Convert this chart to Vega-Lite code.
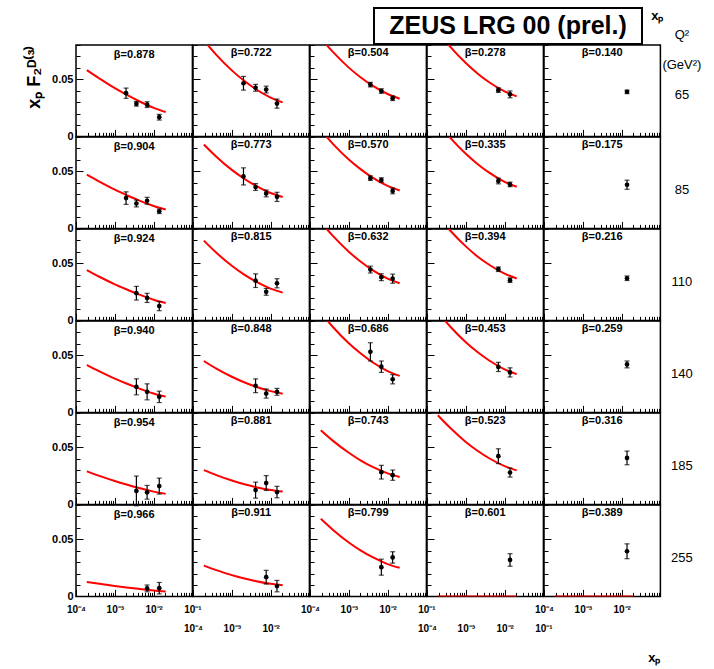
{
"$schema":"https://vega.github.io/schema/vega-lite/v6.json",
"padding":{"left":24,"top":7,"right":5,"bottom":2},
"background":"white",
"datasets":{"d":[
{"p":"11","k":"c","x":0.00019,"y":0.058},{"p":"11","k":"c","x":0.0004,"y":0.0507},{"p":"11","k":"c","x":0.001,"y":0.0422},{"p":"11","k":"c","x":0.002,"y":0.0365},{"p":"11","k":"c","x":0.004,"y":0.0312},{"p":"11","k":"c","x":0.01,"y":0.025},{"p":"11","k":"c","x":0.0205,"y":0.0213},
{"p":"21","k":"c","x":0.00019,"y":0.047},{"p":"21","k":"c","x":0.0004,"y":0.0409},{"p":"21","k":"c","x":0.001,"y":0.0339},{"p":"21","k":"c","x":0.002,"y":0.0292},{"p":"21","k":"c","x":0.004,"y":0.0247},{"p":"21","k":"c","x":0.01,"y":0.0196},{"p":"21","k":"c","x":0.0205,"y":0.0165},
{"p":"31","k":"c","x":0.00019,"y":0.044},{"p":"31","k":"c","x":0.0004,"y":0.0382},{"p":"31","k":"c","x":0.001,"y":0.0316},{"p":"31","k":"c","x":0.002,"y":0.0272},{"p":"31","k":"c","x":0.004,"y":0.023},{"p":"31","k":"c","x":0.01,"y":0.0181},{"p":"31","k":"c","x":0.0205,"y":0.0152},
{"p":"41","k":"c","x":0.00019,"y":0.0415},{"p":"41","k":"c","x":0.0004,"y":0.036},{"p":"41","k":"c","x":0.001,"y":0.0296},{"p":"41","k":"c","x":0.002,"y":0.0253},{"p":"41","k":"c","x":0.004,"y":0.0213},{"p":"41","k":"c","x":0.01,"y":0.0166},{"p":"41","k":"c","x":0.0205,"y":0.0138},
{"p":"51","k":"c","x":0.00019,"y":0.029},{"p":"51","k":"c","x":0.0004,"y":0.025},{"p":"51","k":"c","x":0.001,"y":0.0205},{"p":"51","k":"c","x":0.002,"y":0.0174},{"p":"51","k":"c","x":0.004,"y":0.0145},{"p":"51","k":"c","x":0.01,"y":0.0112},{"p":"51","k":"c","x":0.0205,"y":0.0092},
{"p":"61","k":"c","x":0.00019,"y":0.0127},{"p":"61","k":"c","x":0.0004,"y":0.011},{"p":"61","k":"c","x":0.001,"y":0.0091},{"p":"61","k":"c","x":0.002,"y":0.0078},{"p":"61","k":"c","x":0.004,"y":0.0066},{"p":"61","k":"c","x":0.01,"y":0.0051},{"p":"61","k":"c","x":0.0205,"y":0.0043},
{"p":"12","k":"c","x":0.00019,"y":0.084},{"p":"12","k":"c","x":0.0004,"y":0.0714},{"p":"12","k":"c","x":0.001,"y":0.0578},{"p":"12","k":"c","x":0.002,"y":0.0491},{"p":"12","k":"c","x":0.004,"y":0.0417},{"p":"12","k":"c","x":0.01,"y":0.034},{"p":"12","k":"c","x":0.0205,"y":0.0298},
{"p":"22","k":"c","x":0.00019,"y":0.0735},{"p":"22","k":"c","x":0.0004,"y":0.0628},{"p":"22","k":"c","x":0.001,"y":0.0512},{"p":"22","k":"c","x":0.002,"y":0.0439},{"p":"22","k":"c","x":0.004,"y":0.0376},{"p":"22","k":"c","x":0.01,"y":0.031},{"p":"22","k":"c","x":0.0205,"y":0.0275},
{"p":"32","k":"c","x":0.00019,"y":0.0698},{"p":"32","k":"c","x":0.0004,"y":0.0592},{"p":"32","k":"c","x":0.001,"y":0.0478},{"p":"32","k":"c","x":0.002,"y":0.0405},{"p":"32","k":"c","x":0.004,"y":0.0343},{"p":"32","k":"c","x":0.01,"y":0.0278},{"p":"32","k":"c","x":0.0205,"y":0.0243},
{"p":"42","k":"c","x":0.00019,"y":0.045},{"p":"42","k":"c","x":0.0004,"y":0.0383},{"p":"42","k":"c","x":0.001,"y":0.0312},{"p":"42","k":"c","x":0.002,"y":0.0266},{"p":"42","k":"c","x":0.004,"y":0.0227},{"p":"42","k":"c","x":0.01,"y":0.0186},{"p":"42","k":"c","x":0.0205,"y":0.0164},
{"p":"52","k":"c","x":0.00019,"y":0.03},{"p":"52","k":"c","x":0.0004,"y":0.0256},{"p":"52","k":"c","x":0.001,"y":0.0209},{"p":"52","k":"c","x":0.002,"y":0.0179},{"p":"52","k":"c","x":0.004,"y":0.0153},{"p":"52","k":"c","x":0.01,"y":0.0126},{"p":"52","k":"c","x":0.0205,"y":0.0112},
{"p":"62","k":"c","x":0.00019,"y":0.027},{"p":"62","k":"c","x":0.0004,"y":0.023},{"p":"62","k":"c","x":0.001,"y":0.0186},{"p":"62","k":"c","x":0.002,"y":0.0159},{"p":"62","k":"c","x":0.004,"y":0.0135},{"p":"62","k":"c","x":0.01,"y":0.011},{"p":"62","k":"c","x":0.0205,"y":0.0097},
{"p":"13","k":"c","x":0.00019,"y":0.0858},{"p":"13","k":"c","x":0.0004,"y":0.0735},{"p":"13","k":"c","x":0.001,"y":0.0602},{"p":"13","k":"c","x":0.002,"y":0.0518},{"p":"13","k":"c","x":0.004,"y":0.0446},{"p":"13","k":"c","x":0.01,"y":0.0371},{"p":"13","k":"c","x":0.0205,"y":0.033},
{"p":"23","k":"c","x":0.00019,"y":0.086},{"p":"23","k":"c","x":0.0004,"y":0.0736},{"p":"23","k":"c","x":0.001,"y":0.0603},{"p":"23","k":"c","x":0.002,"y":0.0519},{"p":"23","k":"c","x":0.004,"y":0.0447},{"p":"23","k":"c","x":0.01,"y":0.0372},{"p":"23","k":"c","x":0.0205,"y":0.0332},
{"p":"33","k":"c","x":0.00019,"y":0.0859},{"p":"33","k":"c","x":0.0004,"y":0.0735},{"p":"33","k":"c","x":0.001,"y":0.0601},{"p":"33","k":"c","x":0.002,"y":0.0515},{"p":"33","k":"c","x":0.004,"y":0.0442},{"p":"33","k":"c","x":0.01,"y":0.0366},{"p":"33","k":"c","x":0.0205,"y":0.0325},
{"p":"43","k":"c","x":0.00019,"y":0.0872},{"p":"43","k":"c","x":0.0004,"y":0.0743},{"p":"43","k":"c","x":0.001,"y":0.0605},{"p":"43","k":"c","x":0.002,"y":0.0517},{"p":"43","k":"c","x":0.004,"y":0.0441},{"p":"43","k":"c","x":0.01,"y":0.0362},{"p":"43","k":"c","x":0.0205,"y":0.032},
{"p":"53","k":"c","x":0.00019,"y":0.065},{"p":"53","k":"c","x":0.0004,"y":0.0554},{"p":"53","k":"c","x":0.001,"y":0.0452},{"p":"53","k":"c","x":0.002,"y":0.0386},{"p":"53","k":"c","x":0.004,"y":0.033},{"p":"53","k":"c","x":0.01,"y":0.0272},{"p":"53","k":"c","x":0.0205,"y":0.024},
{"p":"63","k":"c","x":0.00019,"y":0.068},{"p":"63","k":"c","x":0.0004,"y":0.058},{"p":"63","k":"c","x":0.001,"y":0.0472},{"p":"63","k":"c","x":0.002,"y":0.0403},{"p":"63","k":"c","x":0.004,"y":0.0345},{"p":"63","k":"c","x":0.01,"y":0.0283},{"p":"63","k":"c","x":0.0205,"y":0.025},
{"p":"14","k":"c","x":0.00019,"y":0.0916},{"p":"14","k":"c","x":0.0004,"y":0.0784},{"p":"14","k":"c","x":0.001,"y":0.0642},{"p":"14","k":"c","x":0.002,"y":0.0551},{"p":"14","k":"c","x":0.004,"y":0.0474},{"p":"14","k":"c","x":0.01,"y":0.0394},{"p":"14","k":"c","x":0.0205,"y":0.035},
{"p":"24","k":"c","x":0.00019,"y":0.0923},{"p":"24","k":"c","x":0.0004,"y":0.0793},{"p":"24","k":"c","x":0.001,"y":0.0653},{"p":"24","k":"c","x":0.002,"y":0.0564},{"p":"24","k":"c","x":0.004,"y":0.0488},{"p":"24","k":"c","x":0.01,"y":0.0408},{"p":"24","k":"c","x":0.0205,"y":0.0365},
{"p":"34","k":"c","x":0.00019,"y":0.0912},{"p":"34","k":"c","x":0.0004,"y":0.0785},{"p":"34","k":"c","x":0.001,"y":0.0648},{"p":"34","k":"c","x":0.002,"y":0.056},{"p":"34","k":"c","x":0.004,"y":0.0487},{"p":"34","k":"c","x":0.01,"y":0.0409},{"p":"34","k":"c","x":0.0205,"y":0.0367},
{"p":"44","k":"c","x":0.00019,"y":0.0876},{"p":"44","k":"c","x":0.0004,"y":0.075},{"p":"44","k":"c","x":0.001,"y":0.0614},{"p":"44","k":"c","x":0.002,"y":0.0528},{"p":"44","k":"c","x":0.004,"y":0.0454},{"p":"44","k":"c","x":0.01,"y":0.0377},{"p":"44","k":"c","x":0.0205,"y":0.0335},
{"p":"54","k":"c","x":0.00019,"y":0.078},{"p":"54","k":"c","x":0.0004,"y":0.0668},{"p":"54","k":"c","x":0.001,"y":0.0547},{"p":"54","k":"c","x":0.002,"y":0.047},{"p":"54","k":"c","x":0.004,"y":0.0404},{"p":"54","k":"c","x":0.01,"y":0.0335},{"p":"54","k":"c","x":0.0205,"y":0.0298},
{"p":"64","k":"c","x":0.00019,"y":0},{"p":"64","k":"c","x":0.0205,"y":0},
{"p":"65","k":"c","x":0.00019,"y":0},{"p":"65","k":"c","x":0.0205,"y":0},
{"p":"11","k":"d","x":0.00195,"y":0.0378,"e":0.0045},{"p":"11","k":"d","x":0.0036,"y":0.0285,"e":0.002},{"p":"11","k":"d","x":0.0068,"y":0.0278,"e":0.0025},{"p":"11","k":"d","x":0.014,"y":0.0168,"e":0.0025},
{"p":"12","k":"d","x":0.002,"y":0.0465,"e":0.006},{"p":"12","k":"d","x":0.0041,"y":0.0425,"e":0.003},{"p":"12","k":"d","x":0.0077,"y":0.041,"e":0.003},{"p":"12","k":"d","x":0.0146,"y":0.0287,"e":0.004},
{"p":"13","k":"d","x":0.0036,"y":0.0453,"e":0.002},{"p":"13","k":"d","x":0.0069,"y":0.0397,"e":0.002},{"p":"13","k":"d","x":0.0135,"y":0.0334,"e":0.002},
{"p":"14","k":"d","x":0.0069,"y":0.0405,"e":0.002},{"p":"14","k":"d","x":0.0138,"y":0.0368,"e":0.003},
{"p":"15","k":"d","x":0.0138,"y":0.039,"e":0.0015},
{"p":"21","k":"d","x":0.00195,"y":0.0265,"e":0.0055},{"p":"21","k":"d","x":0.0036,"y":0.0218,"e":0.003},{"p":"21","k":"d","x":0.0068,"y":0.0242,"e":0.003},{"p":"21","k":"d","x":0.014,"y":0.015,"e":0.002},
{"p":"22","k":"d","x":0.002,"y":0.0455,"e":0.0075},{"p":"22","k":"d","x":0.0041,"y":0.0362,"e":0.003},{"p":"22","k":"d","x":0.0077,"y":0.0306,"e":0.003},{"p":"22","k":"d","x":0.0146,"y":0.0276,"e":0.004},
{"p":"23","k":"d","x":0.0036,"y":0.044,"e":0.002},{"p":"23","k":"d","x":0.0069,"y":0.0423,"e":0.002},{"p":"23","k":"d","x":0.0135,"y":0.0328,"e":0.0025},
{"p":"24","k":"d","x":0.0069,"y":0.0415,"e":0.0025},{"p":"24","k":"d","x":0.0138,"y":0.0385,"e":0.002},
{"p":"25","k":"d","x":0.0138,"y":0.0382,"e":0.004},
{"p":"31","k":"d","x":0.0036,"y":0.0238,"e":0.006},{"p":"31","k":"d","x":0.0068,"y":0.0197,"e":0.004},{"p":"31","k":"d","x":0.014,"y":0.0125,"e":0.004},
{"p":"32","k":"d","x":0.0041,"y":0.0348,"e":0.006},{"p":"32","k":"d","x":0.0077,"y":0.025,"e":0.003},{"p":"32","k":"d","x":0.0146,"y":0.0325,"e":0.004},
{"p":"33","k":"d","x":0.0036,"y":0.0445,"e":0.003},{"p":"33","k":"d","x":0.0069,"y":0.0378,"e":0.003},{"p":"33","k":"d","x":0.0135,"y":0.0365,"e":0.004},
{"p":"34","k":"d","x":0.0069,"y":0.0448,"e":0.002},{"p":"34","k":"d","x":0.0138,"y":0.0352,"e":0.002},
{"p":"35","k":"d","x":0.0138,"y":0.0369,"e":0.002},
{"p":"41","k":"d","x":0.0036,"y":0.0224,"e":0.007},{"p":"41","k":"d","x":0.0068,"y":0.018,"e":0.007},{"p":"41","k":"d","x":0.014,"y":0.0136,"e":0.005},
{"p":"42","k":"d","x":0.0041,"y":0.0233,"e":0.006},{"p":"42","k":"d","x":0.0077,"y":0.0165,"e":0.004},{"p":"42","k":"d","x":0.0146,"y":0.018,"e":0.003},
{"p":"43","k":"d","x":0.0036,"y":0.053,"e":0.008},{"p":"43","k":"d","x":0.0069,"y":0.04,"e":0.005},{"p":"43","k":"d","x":0.0135,"y":0.029,"e":0.004},
{"p":"44","k":"d","x":0.0069,"y":0.0398,"e":0.004},{"p":"44","k":"d","x":0.0138,"y":0.035,"e":0.004},
{"p":"45","k":"d","x":0.0138,"y":0.042,"e":0.003},
{"p":"51","k":"d","x":0.0036,"y":0.0118,"e":0.013},{"p":"51","k":"d","x":0.0068,"y":0.0106,"e":0.006},{"p":"51","k":"d","x":0.014,"y":0.016,"e":0.007},
{"p":"52","k":"d","x":0.0041,"y":0.0125,"e":0.007},{"p":"52","k":"d","x":0.0077,"y":0.0187,"e":0.0065},{"p":"52","k":"d","x":0.0146,"y":0.0108,"e":0.005},
{"p":"53","k":"d","x":0.0069,"y":0.0282,"e":0.006},{"p":"53","k":"d","x":0.0135,"y":0.0256,"e":0.0045},
{"p":"54","k":"d","x":0.0069,"y":0.0422,"e":0.0065},{"p":"54","k":"d","x":0.0138,"y":0.0279,"e":0.004},
{"p":"55","k":"d","x":0.0138,"y":0.0407,"e":0.006},
{"p":"61","k":"d","x":0.0068,"y":0.007,"e":0.003},{"p":"61","k":"d","x":0.014,"y":0.0072,"e":0.005},
{"p":"62","k":"d","x":0.0077,"y":0.0168,"e":0.006},{"p":"62","k":"d","x":0.0146,"y":0.009,"e":0.005},
{"p":"63","k":"d","x":0.0069,"y":0.0256,"e":0.007},{"p":"63","k":"d","x":0.0135,"y":0.0341,"e":0.005},
{"p":"64","k":"d","x":0.0138,"y":0.0319,"e":0.0055},
{"p":"65","k":"d","x":0.0138,"y":0.0395,"e":0.0065}
]},
"data":{"name":"d"},
"spacing":-18,
"vconcat":[
{"hconcat":[
 {"width":298,"height":36,"data":{"values":[{}]},"mark":"text","encoding":{"text":{"value":""}},"view":{"stroke":null}},
 {"width":268,"height":36,"data":{"values":[{"t":"ZEUS LRG 00 (prel.)"}]},"mark":{"type":"text","fontSize":25,"fontWeight":"bold","color":"black"},"encoding":{"text":{"field":"t"}},"view":{"stroke":"black","strokeWidth":2},
  "title":{"text":"xₚ","orient":"right","angle":0,"anchor":"start","baseline":"top","align":"left","offset":-3,"dy":2,"fontSize":13,"frame":"group"}}
],"spacing":0,"bounds":"flush"},
{"columns":5,"spacing":0,"bounds":"flush","concat":[
 {"width":116.4,"height":91.4,"title":{"text":"β=0.878","dy":25},"transform":[{"filter":"datum.p=='11'"}],"encoding":{"x":{"field":"x","type":"quantitative","title":null,"scale":{"type":"log","domain":[0.0001,0.1],"nice":false},"axis":{"labels":false}},"y":{"field":"y","type":"quantitative","title":"xₚ F₂ᴰ⁽³⁾","scale":{"domain":[0,0.08],"nice":false},"axis":{"labelExpr":"datum.value==0?'0':abs(datum.value-0.05)<0.001?'0.05':''","titleAnchor":"end","titleFontSize":18,"titlePadding":8,"titleFontWeight":"bold"}}},
  "layer":[{"transform":[{"filter":"datum.k=='c'"}],"mark":{"type":"line","clip":true}},{"transform":[{"filter":"datum.k=='d'"}],"mark":{"type":"errorbar","color":"black","ticks":{"size":5},"thickness":1.2},"encoding":{"yError":{"field":"e"}}},{"transform":[{"filter":"datum.k=='d'"}],"mark":{"type":"point"}}]},
 {"width":116.4,"height":91.4,"title":{"text":"β=0.722"},"transform":[{"filter":"datum.p=='12'"}],"encoding":{"x":{"field":"x","type":"quantitative","title":null,"scale":{"type":"log","domain":[0.0001,0.1],"nice":false},"axis":{"labels":false}},"y":{"field":"y","type":"quantitative","title":null,"scale":{"domain":[0,0.08],"nice":false},"axis":{"labels":false}}},
  "layer":[{"transform":[{"filter":"datum.k=='c'"}],"mark":{"type":"line","clip":true}},{"transform":[{"filter":"datum.k=='d'"}],"mark":{"type":"errorbar","color":"black","ticks":{"size":5},"thickness":1.2},"encoding":{"yError":{"field":"e"}}},{"transform":[{"filter":"datum.k=='d'"}],"mark":{"type":"point"}}]},
 {"width":116.4,"height":91.4,"title":{"text":"β=0.504"},"transform":[{"filter":"datum.p=='13'"}],"encoding":{"x":{"field":"x","type":"quantitative","title":null,"scale":{"type":"log","domain":[0.0001,0.1],"nice":false},"axis":{"labels":false}},"y":{"field":"y","type":"quantitative","title":null,"scale":{"domain":[0,0.08],"nice":false},"axis":{"labels":false}}},
  "layer":[{"transform":[{"filter":"datum.k=='c'"}],"mark":{"type":"line","clip":true}},{"transform":[{"filter":"datum.k=='d'"}],"mark":{"type":"errorbar","color":"black","ticks":{"size":5},"thickness":1.2},"encoding":{"yError":{"field":"e"}}},{"transform":[{"filter":"datum.k=='d'"}],"mark":{"type":"point"}}]},
 {"width":116.4,"height":91.4,"title":{"text":"β=0.278"},"transform":[{"filter":"datum.p=='14'"}],"encoding":{"x":{"field":"x","type":"quantitative","title":null,"scale":{"type":"log","domain":[0.0001,0.1],"nice":false},"axis":{"labels":false}},"y":{"field":"y","type":"quantitative","title":null,"scale":{"domain":[0,0.08],"nice":false},"axis":{"labels":false}}},
  "layer":[{"transform":[{"filter":"datum.k=='c'"}],"mark":{"type":"line","clip":true}},{"transform":[{"filter":"datum.k=='d'"}],"mark":{"type":"errorbar","color":"black","ticks":{"size":5},"thickness":1.2},"encoding":{"yError":{"field":"e"}}},{"transform":[{"filter":"datum.k=='d'"}],"mark":{"type":"point"}}]},
 {"width":116.4,"height":91.4,"title":{"text":"β=0.140","dy":33},"transform":[{"filter":"datum.p=='15'"}],"encoding":{"x":{"field":"x","type":"quantitative","title":null,"scale":{"type":"log","domain":[0.0001,0.1],"nice":false},"axis":{"labels":false}}},"resolve":{"axis":{"y":"independent"}},
  "layer":[{"transform":[{"filter":"datum.k=='c'"}],"mark":{"type":"line","clip":true},"encoding":{"y":{"field":"y","type":"quantitative","title":["Q²","(GeV²)","65"],"scale":{"domain":[0,0.08],"nice":false},"axis":{"orient":"right","labels":false,"ticks":false,"titleAngle":0,"titleX":21,"titleY":-3.5,"titleAlign":"center","titleBaseline":"bottom","titleFontWeight":"normal","titleFontSize":13,"titleLineHeight":30}}}},
   {"transform":[{"filter":"datum.k=='d'"}],"mark":{"type":"errorbar","color":"black","ticks":{"size":5},"thickness":1.2},"encoding":{"y":{"field":"y","type":"quantitative","scale":{"domain":[0,0.08],"nice":false},"axis":null},"yError":{"field":"e"}}},
   {"transform":[{"filter":"datum.k=='d'"}],"mark":{"type":"point"},"encoding":{"y":{"field":"y","type":"quantitative","title":null,"scale":{"domain":[0,0.08],"nice":false},"axis":{"labels":false}}}}]},
 {"width":116.4,"height":91.4,"title":{"text":"β=0.904","dy":25},"transform":[{"filter":"datum.p=='21'"}],"encoding":{"x":{"field":"x","type":"quantitative","title":null,"scale":{"type":"log","domain":[0.0001,0.1],"nice":false},"axis":{"labels":false}},"y":{"field":"y","type":"quantitative","title":null,"scale":{"domain":[0,0.08],"nice":false},"axis":{"labelExpr":"datum.value==0?'0':abs(datum.value-0.05)<0.001?'0.05':''"}}},
  "layer":[{"transform":[{"filter":"datum.k=='c'"}],"mark":{"type":"line","clip":true}},{"transform":[{"filter":"datum.k=='d'"}],"mark":{"type":"errorbar","color":"black","ticks":{"size":5},"thickness":1.2},"encoding":{"yError":{"field":"e"}}},{"transform":[{"filter":"datum.k=='d'"}],"mark":{"type":"point"}}]},
 {"width":116.4,"height":91.4,"title":{"text":"β=0.773"},"transform":[{"filter":"datum.p=='22'"}],"encoding":{"x":{"field":"x","type":"quantitative","title":null,"scale":{"type":"log","domain":[0.0001,0.1],"nice":false},"axis":{"labels":false}},"y":{"field":"y","type":"quantitative","title":null,"scale":{"domain":[0,0.08],"nice":false},"axis":{"labels":false}}},
  "layer":[{"transform":[{"filter":"datum.k=='c'"}],"mark":{"type":"line","clip":true}},{"transform":[{"filter":"datum.k=='d'"}],"mark":{"type":"errorbar","color":"black","ticks":{"size":5},"thickness":1.2},"encoding":{"yError":{"field":"e"}}},{"transform":[{"filter":"datum.k=='d'"}],"mark":{"type":"point"}}]},
 {"width":116.4,"height":91.4,"title":{"text":"β=0.570"},"transform":[{"filter":"datum.p=='23'"}],"encoding":{"x":{"field":"x","type":"quantitative","title":null,"scale":{"type":"log","domain":[0.0001,0.1],"nice":false},"axis":{"labels":false}},"y":{"field":"y","type":"quantitative","title":null,"scale":{"domain":[0,0.08],"nice":false},"axis":{"labels":false}}},
  "layer":[{"transform":[{"filter":"datum.k=='c'"}],"mark":{"type":"line","clip":true}},{"transform":[{"filter":"datum.k=='d'"}],"mark":{"type":"errorbar","color":"black","ticks":{"size":5},"thickness":1.2},"encoding":{"yError":{"field":"e"}}},{"transform":[{"filter":"datum.k=='d'"}],"mark":{"type":"point"}}]},
 {"width":116.4,"height":91.4,"title":{"text":"β=0.335"},"transform":[{"filter":"datum.p=='24'"}],"encoding":{"x":{"field":"x","type":"quantitative","title":null,"scale":{"type":"log","domain":[0.0001,0.1],"nice":false},"axis":{"labels":false}},"y":{"field":"y","type":"quantitative","title":null,"scale":{"domain":[0,0.08],"nice":false},"axis":{"labels":false}}},
  "layer":[{"transform":[{"filter":"datum.k=='c'"}],"mark":{"type":"line","clip":true}},{"transform":[{"filter":"datum.k=='d'"}],"mark":{"type":"errorbar","color":"black","ticks":{"size":5},"thickness":1.2},"encoding":{"yError":{"field":"e"}}},{"transform":[{"filter":"datum.k=='d'"}],"mark":{"type":"point"}}]},
 {"width":116.4,"height":91.4,"title":{"text":"β=0.175"},"transform":[{"filter":"datum.p=='25'"}],"encoding":{"x":{"field":"x","type":"quantitative","title":null,"scale":{"type":"log","domain":[0.0001,0.1],"nice":false},"axis":{"labels":false}}},"resolve":{"axis":{"y":"independent"}},
  "layer":[{"transform":[{"filter":"datum.k=='c'"}],"mark":{"type":"line","clip":true},"encoding":{"y":{"field":"y","type":"quantitative","title":"85","scale":{"domain":[0,0.08],"nice":false},"axis":{"orient":"right","labels":false,"ticks":false,"titleAngle":0,"titleX":21,"titleY":52.7,"titleAlign":"center","titleBaseline":"middle","titleFontWeight":"normal","titleFontSize":13}}}},
   {"transform":[{"filter":"datum.k=='d'"}],"mark":{"type":"errorbar","color":"black","ticks":{"size":5},"thickness":1.2},"encoding":{"y":{"field":"y","type":"quantitative","scale":{"domain":[0,0.08],"nice":false},"axis":null},"yError":{"field":"e"}}},
   {"transform":[{"filter":"datum.k=='d'"}],"mark":{"type":"point"},"encoding":{"y":{"field":"y","type":"quantitative","title":null,"scale":{"domain":[0,0.08],"nice":false},"axis":{"labels":false}}}}]},
 {"width":116.4,"height":91.4,"title":{"text":"β=0.924","dy":25},"transform":[{"filter":"datum.p=='31'"}],"encoding":{"x":{"field":"x","type":"quantitative","title":null,"scale":{"type":"log","domain":[0.0001,0.1],"nice":false},"axis":{"labels":false}},"y":{"field":"y","type":"quantitative","title":null,"scale":{"domain":[0,0.08],"nice":false},"axis":{"labelExpr":"datum.value==0?'0':abs(datum.value-0.05)<0.001?'0.05':''"}}},
  "layer":[{"transform":[{"filter":"datum.k=='c'"}],"mark":{"type":"line","clip":true}},{"transform":[{"filter":"datum.k=='d'"}],"mark":{"type":"errorbar","color":"black","ticks":{"size":5},"thickness":1.2},"encoding":{"yError":{"field":"e"}}},{"transform":[{"filter":"datum.k=='d'"}],"mark":{"type":"point"}}]},
 {"width":116.4,"height":91.4,"title":{"text":"β=0.815"},"transform":[{"filter":"datum.p=='32'"}],"encoding":{"x":{"field":"x","type":"quantitative","title":null,"scale":{"type":"log","domain":[0.0001,0.1],"nice":false},"axis":{"labels":false}},"y":{"field":"y","type":"quantitative","title":null,"scale":{"domain":[0,0.08],"nice":false},"axis":{"labels":false}}},
  "layer":[{"transform":[{"filter":"datum.k=='c'"}],"mark":{"type":"line","clip":true}},{"transform":[{"filter":"datum.k=='d'"}],"mark":{"type":"errorbar","color":"black","ticks":{"size":5},"thickness":1.2},"encoding":{"yError":{"field":"e"}}},{"transform":[{"filter":"datum.k=='d'"}],"mark":{"type":"point"}}]},
 {"width":116.4,"height":91.4,"title":{"text":"β=0.632"},"transform":[{"filter":"datum.p=='33'"}],"encoding":{"x":{"field":"x","type":"quantitative","title":null,"scale":{"type":"log","domain":[0.0001,0.1],"nice":false},"axis":{"labels":false}},"y":{"field":"y","type":"quantitative","title":null,"scale":{"domain":[0,0.08],"nice":false},"axis":{"labels":false}}},
  "layer":[{"transform":[{"filter":"datum.k=='c'"}],"mark":{"type":"line","clip":true}},{"transform":[{"filter":"datum.k=='d'"}],"mark":{"type":"errorbar","color":"black","ticks":{"size":5},"thickness":1.2},"encoding":{"yError":{"field":"e"}}},{"transform":[{"filter":"datum.k=='d'"}],"mark":{"type":"point"}}]},
 {"width":116.4,"height":91.4,"title":{"text":"β=0.394"},"transform":[{"filter":"datum.p=='34'"}],"encoding":{"x":{"field":"x","type":"quantitative","title":null,"scale":{"type":"log","domain":[0.0001,0.1],"nice":false},"axis":{"labels":false}},"y":{"field":"y","type":"quantitative","title":null,"scale":{"domain":[0,0.08],"nice":false},"axis":{"labels":false}}},
  "layer":[{"transform":[{"filter":"datum.k=='c'"}],"mark":{"type":"line","clip":true}},{"transform":[{"filter":"datum.k=='d'"}],"mark":{"type":"errorbar","color":"black","ticks":{"size":5},"thickness":1.2},"encoding":{"yError":{"field":"e"}}},{"transform":[{"filter":"datum.k=='d'"}],"mark":{"type":"point"}}]},
 {"width":116.4,"height":91.4,"title":{"text":"β=0.216"},"transform":[{"filter":"datum.p=='35'"}],"encoding":{"x":{"field":"x","type":"quantitative","title":null,"scale":{"type":"log","domain":[0.0001,0.1],"nice":false},"axis":{"labels":false}}},"resolve":{"axis":{"y":"independent"}},
  "layer":[{"transform":[{"filter":"datum.k=='c'"}],"mark":{"type":"line","clip":true},"encoding":{"y":{"field":"y","type":"quantitative","title":"110","scale":{"domain":[0,0.08],"nice":false},"axis":{"orient":"right","labels":false,"ticks":false,"titleAngle":0,"titleX":21,"titleY":52.7,"titleAlign":"center","titleBaseline":"middle","titleFontWeight":"normal","titleFontSize":13}}}},
   {"transform":[{"filter":"datum.k=='d'"}],"mark":{"type":"errorbar","color":"black","ticks":{"size":5},"thickness":1.2},"encoding":{"y":{"field":"y","type":"quantitative","scale":{"domain":[0,0.08],"nice":false},"axis":null},"yError":{"field":"e"}}},
   {"transform":[{"filter":"datum.k=='d'"}],"mark":{"type":"point"},"encoding":{"y":{"field":"y","type":"quantitative","title":null,"scale":{"domain":[0,0.08],"nice":false},"axis":{"labels":false}}}}]},
 {"width":116.4,"height":91.4,"title":{"text":"β=0.940","dy":25},"transform":[{"filter":"datum.p=='41'"}],"encoding":{"x":{"field":"x","type":"quantitative","title":null,"scale":{"type":"log","domain":[0.0001,0.1],"nice":false},"axis":{"labels":false}},"y":{"field":"y","type":"quantitative","title":null,"scale":{"domain":[0,0.08],"nice":false},"axis":{"labelExpr":"datum.value==0?'0':abs(datum.value-0.05)<0.001?'0.05':''"}}},
  "layer":[{"transform":[{"filter":"datum.k=='c'"}],"mark":{"type":"line","clip":true}},{"transform":[{"filter":"datum.k=='d'"}],"mark":{"type":"errorbar","color":"black","ticks":{"size":5},"thickness":1.2},"encoding":{"yError":{"field":"e"}}},{"transform":[{"filter":"datum.k=='d'"}],"mark":{"type":"point"}}]},
 {"width":116.4,"height":91.4,"title":{"text":"β=0.848"},"transform":[{"filter":"datum.p=='42'"}],"encoding":{"x":{"field":"x","type":"quantitative","title":null,"scale":{"type":"log","domain":[0.0001,0.1],"nice":false},"axis":{"labels":false}},"y":{"field":"y","type":"quantitative","title":null,"scale":{"domain":[0,0.08],"nice":false},"axis":{"labels":false}}},
  "layer":[{"transform":[{"filter":"datum.k=='c'"}],"mark":{"type":"line","clip":true}},{"transform":[{"filter":"datum.k=='d'"}],"mark":{"type":"errorbar","color":"black","ticks":{"size":5},"thickness":1.2},"encoding":{"yError":{"field":"e"}}},{"transform":[{"filter":"datum.k=='d'"}],"mark":{"type":"point"}}]},
 {"width":116.4,"height":91.4,"title":{"text":"β=0.686"},"transform":[{"filter":"datum.p=='43'"}],"encoding":{"x":{"field":"x","type":"quantitative","title":null,"scale":{"type":"log","domain":[0.0001,0.1],"nice":false},"axis":{"labels":false}},"y":{"field":"y","type":"quantitative","title":null,"scale":{"domain":[0,0.08],"nice":false},"axis":{"labels":false}}},
  "layer":[{"transform":[{"filter":"datum.k=='c'"}],"mark":{"type":"line","clip":true}},{"transform":[{"filter":"datum.k=='d'"}],"mark":{"type":"errorbar","color":"black","ticks":{"size":5},"thickness":1.2},"encoding":{"yError":{"field":"e"}}},{"transform":[{"filter":"datum.k=='d'"}],"mark":{"type":"point"}}]},
 {"width":116.4,"height":91.4,"title":{"text":"β=0.453"},"transform":[{"filter":"datum.p=='44'"}],"encoding":{"x":{"field":"x","type":"quantitative","title":null,"scale":{"type":"log","domain":[0.0001,0.1],"nice":false},"axis":{"labels":false}},"y":{"field":"y","type":"quantitative","title":null,"scale":{"domain":[0,0.08],"nice":false},"axis":{"labels":false}}},
  "layer":[{"transform":[{"filter":"datum.k=='c'"}],"mark":{"type":"line","clip":true}},{"transform":[{"filter":"datum.k=='d'"}],"mark":{"type":"errorbar","color":"black","ticks":{"size":5},"thickness":1.2},"encoding":{"yError":{"field":"e"}}},{"transform":[{"filter":"datum.k=='d'"}],"mark":{"type":"point"}}]},
 {"width":116.4,"height":91.4,"title":{"text":"β=0.259"},"transform":[{"filter":"datum.p=='45'"}],"encoding":{"x":{"field":"x","type":"quantitative","title":null,"scale":{"type":"log","domain":[0.0001,0.1],"nice":false},"axis":{"labels":false}}},"resolve":{"axis":{"y":"independent"}},
  "layer":[{"transform":[{"filter":"datum.k=='c'"}],"mark":{"type":"line","clip":true},"encoding":{"y":{"field":"y","type":"quantitative","title":"140","scale":{"domain":[0,0.08],"nice":false},"axis":{"orient":"right","labels":false,"ticks":false,"titleAngle":0,"titleX":21,"titleY":52.7,"titleAlign":"center","titleBaseline":"middle","titleFontWeight":"normal","titleFontSize":13}}}},
   {"transform":[{"filter":"datum.k=='d'"}],"mark":{"type":"errorbar","color":"black","ticks":{"size":5},"thickness":1.2},"encoding":{"y":{"field":"y","type":"quantitative","scale":{"domain":[0,0.08],"nice":false},"axis":null},"yError":{"field":"e"}}},
   {"transform":[{"filter":"datum.k=='d'"}],"mark":{"type":"point"},"encoding":{"y":{"field":"y","type":"quantitative","title":null,"scale":{"domain":[0,0.08],"nice":false},"axis":{"labels":false}}}}]},
 {"width":116.4,"height":91.4,"title":{"text":"β=0.954","dy":25},"transform":[{"filter":"datum.p=='51'"}],"encoding":{"x":{"field":"x","type":"quantitative","title":null,"scale":{"type":"log","domain":[0.0001,0.1],"nice":false},"axis":{"labels":false}},"y":{"field":"y","type":"quantitative","title":null,"scale":{"domain":[0,0.08],"nice":false},"axis":{"labelExpr":"datum.value==0?'0':abs(datum.value-0.05)<0.001?'0.05':''"}}},
  "layer":[{"transform":[{"filter":"datum.k=='c'"}],"mark":{"type":"line","clip":true}},{"transform":[{"filter":"datum.k=='d'"}],"mark":{"type":"errorbar","color":"black","ticks":{"size":5},"thickness":1.2},"encoding":{"yError":{"field":"e"}}},{"transform":[{"filter":"datum.k=='d'"}],"mark":{"type":"point"}}]},
 {"width":116.4,"height":91.4,"title":{"text":"β=0.881"},"transform":[{"filter":"datum.p=='52'"}],"encoding":{"x":{"field":"x","type":"quantitative","title":null,"scale":{"type":"log","domain":[0.0001,0.1],"nice":false},"axis":{"labels":false}},"y":{"field":"y","type":"quantitative","title":null,"scale":{"domain":[0,0.08],"nice":false},"axis":{"labels":false}}},
  "layer":[{"transform":[{"filter":"datum.k=='c'"}],"mark":{"type":"line","clip":true}},{"transform":[{"filter":"datum.k=='d'"}],"mark":{"type":"errorbar","color":"black","ticks":{"size":5},"thickness":1.2},"encoding":{"yError":{"field":"e"}}},{"transform":[{"filter":"datum.k=='d'"}],"mark":{"type":"point"}}]},
 {"width":116.4,"height":91.4,"title":{"text":"β=0.743"},"transform":[{"filter":"datum.p=='53'"}],"encoding":{"x":{"field":"x","type":"quantitative","title":null,"scale":{"type":"log","domain":[0.0001,0.1],"nice":false},"axis":{"labels":false}},"y":{"field":"y","type":"quantitative","title":null,"scale":{"domain":[0,0.08],"nice":false},"axis":{"labels":false}}},
  "layer":[{"transform":[{"filter":"datum.k=='c'"}],"mark":{"type":"line","clip":true}},{"transform":[{"filter":"datum.k=='d'"}],"mark":{"type":"errorbar","color":"black","ticks":{"size":5},"thickness":1.2},"encoding":{"yError":{"field":"e"}}},{"transform":[{"filter":"datum.k=='d'"}],"mark":{"type":"point"}}]},
 {"width":116.4,"height":91.4,"title":{"text":"β=0.523"},"transform":[{"filter":"datum.p=='54'"}],"encoding":{"x":{"field":"x","type":"quantitative","title":null,"scale":{"type":"log","domain":[0.0001,0.1],"nice":false},"axis":{"labels":false}},"y":{"field":"y","type":"quantitative","title":null,"scale":{"domain":[0,0.08],"nice":false},"axis":{"labels":false}}},
  "layer":[{"transform":[{"filter":"datum.k=='c'"}],"mark":{"type":"line","clip":true}},{"transform":[{"filter":"datum.k=='d'"}],"mark":{"type":"errorbar","color":"black","ticks":{"size":5},"thickness":1.2},"encoding":{"yError":{"field":"e"}}},{"transform":[{"filter":"datum.k=='d'"}],"mark":{"type":"point"}}]},
 {"width":116.4,"height":91.4,"title":{"text":"β=0.316"},"transform":[{"filter":"datum.p=='55'"}],"encoding":{"x":{"field":"x","type":"quantitative","title":null,"scale":{"type":"log","domain":[0.0001,0.1],"nice":false},"axis":{"labels":false}}},"resolve":{"axis":{"y":"independent"}},
  "layer":[{"transform":[{"filter":"datum.k=='c'"}],"mark":{"type":"line","clip":true},"encoding":{"y":{"field":"y","type":"quantitative","title":"185","scale":{"domain":[0,0.08],"nice":false},"axis":{"orient":"right","labels":false,"ticks":false,"titleAngle":0,"titleX":21,"titleY":52.7,"titleAlign":"center","titleBaseline":"middle","titleFontWeight":"normal","titleFontSize":13}}}},
   {"transform":[{"filter":"datum.k=='d'"}],"mark":{"type":"errorbar","color":"black","ticks":{"size":5},"thickness":1.2},"encoding":{"y":{"field":"y","type":"quantitative","scale":{"domain":[0,0.08],"nice":false},"axis":null},"yError":{"field":"e"}}},
   {"transform":[{"filter":"datum.k=='d'"}],"mark":{"type":"point"},"encoding":{"y":{"field":"y","type":"quantitative","title":null,"scale":{"domain":[0,0.08],"nice":false},"axis":{"labels":false}}}}]},
 {"width":116.4,"height":91.4,"title":{"text":"β=0.966","dy":25},"transform":[{"filter":"datum.p=='61'"}],"encoding":{"x":{"field":"x","type":"quantitative","title":null,"scale":{"type":"log","domain":[0.0001,0.1],"nice":false},"axis":{"labelExpr":"datum.value<1.05e-4?'10⁻⁴':(datum.value>9.5e-4&&datum.value<1.05e-3)?'10⁻³':(datum.value>9.5e-3&&datum.value<1.05e-2)?'10⁻²':datum.value>0.095?'10⁻¹':''","labelPadding":15}},"y":{"field":"y","type":"quantitative","title":null,"scale":{"domain":[0,0.08],"nice":false},"axis":{"labelExpr":"datum.value==0?'0':abs(datum.value-0.05)<0.001?'0.05':''"}}},
  "layer":[{"transform":[{"filter":"datum.k=='c'"}],"mark":{"type":"line","clip":true}},{"transform":[{"filter":"datum.k=='d'"}],"mark":{"type":"errorbar","color":"black","ticks":{"size":5},"thickness":1.2},"encoding":{"yError":{"field":"e"}}},{"transform":[{"filter":"datum.k=='d'"}],"mark":{"type":"point"}}]},
 {"width":116.4,"height":91.4,"title":{"text":"β=0.911"},"transform":[{"filter":"datum.p=='62'"}],"encoding":{"x":{"field":"x","type":"quantitative","title":null,"scale":{"type":"log","domain":[0.0001,0.1],"nice":false},"axis":{"labelExpr":"datum.value<1.05e-4?'10⁻⁴':(datum.value>9.5e-4&&datum.value<1.05e-3)?'10⁻³':(datum.value>9.5e-3&&datum.value<1.05e-2)?'10⁻²':''","labelPadding":34}},"y":{"field":"y","type":"quantitative","title":null,"scale":{"domain":[0,0.08],"nice":false},"axis":{"labels":false}}},
  "layer":[{"transform":[{"filter":"datum.k=='c'"}],"mark":{"type":"line","clip":true}},{"transform":[{"filter":"datum.k=='d'"}],"mark":{"type":"errorbar","color":"black","ticks":{"size":5},"thickness":1.2},"encoding":{"yError":{"field":"e"}}},{"transform":[{"filter":"datum.k=='d'"}],"mark":{"type":"point"}}]},
 {"width":116.4,"height":91.4,"title":{"text":"β=0.799"},"transform":[{"filter":"datum.p=='63'"}],"encoding":{"x":{"field":"x","type":"quantitative","title":null,"scale":{"type":"log","domain":[0.0001,0.1],"nice":false},"axis":{"labelExpr":"datum.value<1.05e-4?'10⁻⁴':(datum.value>9.5e-4&&datum.value<1.05e-3)?'10⁻³':(datum.value>9.5e-3&&datum.value<1.05e-2)?'10⁻²':datum.value>0.095?'10⁻¹':''","labelPadding":15}},"y":{"field":"y","type":"quantitative","title":null,"scale":{"domain":[0,0.08],"nice":false},"axis":{"labels":false}}},
  "layer":[{"transform":[{"filter":"datum.k=='c'"}],"mark":{"type":"line","clip":true}},{"transform":[{"filter":"datum.k=='d'"}],"mark":{"type":"errorbar","color":"black","ticks":{"size":5},"thickness":1.2},"encoding":{"yError":{"field":"e"}}},{"transform":[{"filter":"datum.k=='d'"}],"mark":{"type":"point"}}]},
 {"width":116.4,"height":91.4,"title":{"text":"β=0.601"},"transform":[{"filter":"datum.p=='64'"}],"encoding":{"x":{"field":"x","type":"quantitative","title":null,"scale":{"type":"log","domain":[0.0001,0.1],"nice":false},"axis":{"labelExpr":"datum.value<1.05e-4?'10⁻⁴':(datum.value>9.5e-4&&datum.value<1.05e-3)?'10⁻³':(datum.value>9.5e-3&&datum.value<1.05e-2)?'10⁻²':datum.value>0.095?'10⁻¹':''","labelPadding":34}},"y":{"field":"y","type":"quantitative","title":null,"scale":{"domain":[0,0.08],"nice":false},"axis":{"labels":false}}},
  "layer":[{"transform":[{"filter":"datum.k=='c'"}],"mark":{"type":"line","clip":true}},{"transform":[{"filter":"datum.k=='d'"}],"mark":{"type":"errorbar","color":"black","ticks":{"size":5},"thickness":1.2},"encoding":{"yError":{"field":"e"}}},{"transform":[{"filter":"datum.k=='d'"}],"mark":{"type":"point"}}]},
 {"width":116.4,"height":91.4,"title":{"text":"β=0.389"},"transform":[{"filter":"datum.p=='65'"}],"encoding":{"x":{"field":"x","type":"quantitative","title":"xₚ","scale":{"type":"log","domain":[0.0001,0.1],"nice":false},"axis":{"labelExpr":"datum.value<1.05e-4?'10⁻⁴':(datum.value>9.5e-4&&datum.value<1.05e-3)?'10⁻³':(datum.value>9.5e-3&&datum.value<1.05e-2)?'10⁻²':''","labelPadding":15,"titleX":116,"titleY":55,"titleAlign":"right","titleBaseline":"top","titleFontSize":13,"titleFontWeight":"bold"}}},"resolve":{"axis":{"y":"independent"}},
  "layer":[{"transform":[{"filter":"datum.k=='c'"}],"mark":{"type":"line","clip":true},"encoding":{"y":{"field":"y","type":"quantitative","title":"255","scale":{"domain":[0,0.08],"nice":false},"axis":{"orient":"right","labels":false,"ticks":false,"titleAngle":0,"titleX":21,"titleY":52.7,"titleAlign":"center","titleBaseline":"middle","titleFontWeight":"normal","titleFontSize":13}}}},
   {"transform":[{"filter":"datum.k=='d'"}],"mark":{"type":"errorbar","color":"black","ticks":{"size":5},"thickness":1.2},"encoding":{"y":{"field":"y","type":"quantitative","scale":{"domain":[0,0.08],"nice":false},"axis":null},"yError":{"field":"e"}}},
   {"transform":[{"filter":"datum.k=='d'"}],"mark":{"type":"point"},"encoding":{"y":{"field":"y","type":"quantitative","title":null,"scale":{"domain":[0,0.08],"nice":false},"axis":{"labels":false}}}}]}
]}
],
"config":{
 "view":{"stroke":"black","strokeWidth":1.5},
 "font":"Liberation Sans",
 "axis":{"domain":false,"grid":false,"tickColor":"black","tickWidth":1,"labelColor":"black","labelFontWeight":"bold","labelFlush":false,"labelOverlap":false,"labelBound":false,"titleColor":"black"},
 "axisX":{"tickCount":10,"tickSize":{"condition":{"test":"abs(log(datum.value)/LN10-round(log(datum.value)/LN10))<0.01","value":-7},"value":-4},"labelFontSize":10,"labelPadding":15},
 "axisY":{"tickCount":8,"tickSize":{"condition":{"test":"datum.value==0||abs(datum.value-0.05)<0.001","value":-7},"value":-4},"labelFontSize":11,"labelPadding":10},
 "title":{"fontSize":11,"fontWeight":"bold","color":"black","anchor":"middle","dy":17},
 "line":{"color":"#ff0000","strokeWidth":2,"interpolate":"monotone"},
 "point":{"filled":true,"color":"black","size":22,"opacity":1}
}
}
